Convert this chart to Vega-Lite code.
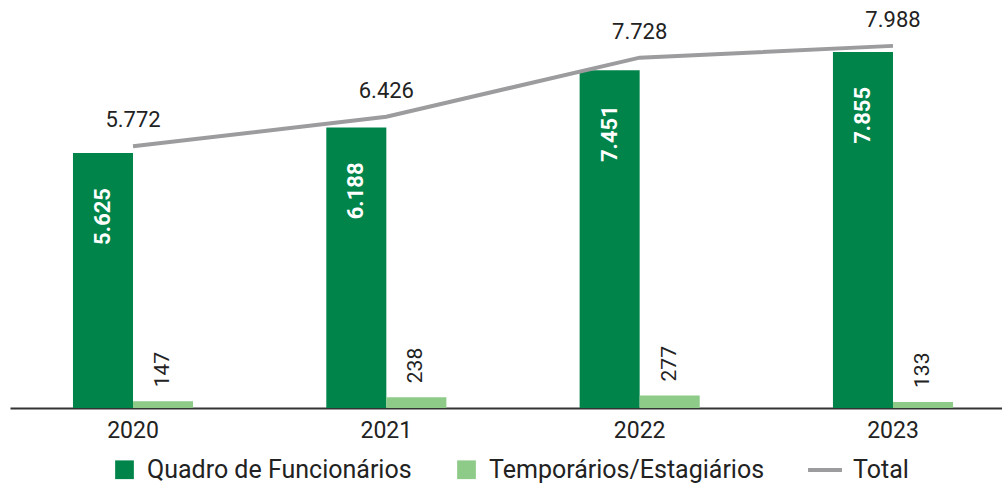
{
  "$schema": "https://vega.github.io/schema/vega-lite/v6.json",
  "width": 1002,
  "height": 408,
  "autosize": {"type": "none"},
  "padding": {"left": 0, "top": 0, "right": 0, "bottom": 76},
  "background": "white",
  "config": {
    "view": {"stroke": null},
    "font": "Roboto",
    "text": {"font": "Roboto"},
    "locale": {"number": {"decimal": ",", "thousands": ".", "grouping": [3], "currency": ["R$", ""]}}
  },
  "datasets": {
    "bars": [
      {"ano": "2020", "grupo": "Quadro de Funcionários", "valor": 5625},
      {"ano": "2020", "grupo": "Temporários/Estagiários", "valor": 147},
      {"ano": "2021", "grupo": "Quadro de Funcionários", "valor": 6188},
      {"ano": "2021", "grupo": "Temporários/Estagiários", "valor": 238},
      {"ano": "2022", "grupo": "Quadro de Funcionários", "valor": 7451},
      {"ano": "2022", "grupo": "Temporários/Estagiários", "valor": 277},
      {"ano": "2023", "grupo": "Quadro de Funcionários", "valor": 7855},
      {"ano": "2023", "grupo": "Temporários/Estagiários", "valor": 133}
    ],
    "total": [
      {"ano": "2020", "serie": "Total", "total": 5772},
      {"ano": "2021", "serie": "Total", "total": 6426},
      {"ano": "2022", "serie": "Total", "total": 7728},
      {"ano": "2023", "serie": "Total", "total": 7988}
    ]
  },
  "layer": [
    {
      "data": {"name": "bars"},
      "mark": {"type": "bar"},
      "encoding": {
        "x": {
          "field": "ano", "type": "nominal", "sort": null,
          "scale": {"range": [10, 1016], "paddingInner": 0.526, "paddingOuter": 0.2486},
          "axis": {
            "title": null, "labelAngle": 0, "ticks": false,
            "domainColor": "#333333", "domainWidth": 2,
            "labelFontSize": 23, "labelColor": "#222222", "labelPadding": 11,
            "labelFont": "Roboto"
          }
        },
        "xOffset": {
          "field": "grupo", "type": "nominal",
          "scale": {"domain": ["Quadro de Funcionários", "Temporários/Estagiários"], "paddingInner": 0, "paddingOuter": 0}
        },
        "y": {"field": "valor", "type": "quantitative", "scale": {"domain": [0, 9000]}, "axis": null},
        "color": {
          "field": "grupo", "type": "nominal",
          "scale": {"domain": ["Quadro de Funcionários", "Temporários/Estagiários"], "range": ["#00844A", "#8ECB88"]},
          "legend": {
            "title": null, "orient": "none", "legendX": 112, "legendY": 457,
            "direction": "horizontal", "symbolType": "square", "symbolSize": 350,
            "symbolStrokeWidth": 0, "labelFontSize": 25, "labelColor": "#222222",
            "labelFont": "Roboto", "columnPadding": 42, "labelOffset": 10, "padding": 0,
            "labelLimit": 500
          }
        }
      }
    },
    {
      "data": {"name": "total"},
      "mark": {"type": "line", "strokeWidth": 4},
      "encoding": {
        "x": {"field": "ano", "type": "nominal", "sort": null},
        "y": {"field": "total", "type": "quantitative"},
        "stroke": {
          "field": "serie", "type": "nominal",
          "scale": {"domain": ["Total"], "range": ["#9C9C9F"]},
          "legend": {
            "title": null, "orient": "none", "legendX": 806, "legendY": 451,
            "symbolType": "stroke", "symbolSize": 1150, "symbolStrokeWidth": 4,
            "labelFontSize": 25, "labelColor": "#222222", "labelFont": "Roboto",
            "labelOffset": 9, "padding": 0, "labelLimit": 200
          }
        }
      }
    },
    {
      "data": {"name": "total"},
      "mark": {"type": "text", "fontSize": 22, "color": "#222222", "dy": -26, "baseline": "middle"},
      "encoding": {
        "x": {"field": "ano", "type": "nominal", "sort": null},
        "y": {"field": "total", "type": "quantitative"},
        "text": {"field": "total", "type": "quantitative", "format": ",.0f"}
      }
    },
    {
      "data": {"name": "bars"},
      "transform": [{"filter": "datum.grupo === 'Quadro de Funcionários'"}],
      "mark": {"type": "text", "fontSize": 22, "fontWeight": "bold", "color": "white", "angle": -90, "align": "right", "baseline": "middle", "dx": -35},
      "encoding": {
        "x": {"field": "ano", "type": "nominal", "sort": null},
        "xOffset": {"field": "grupo", "type": "nominal"},
        "y": {"field": "valor", "type": "quantitative"},
        "text": {"field": "valor", "type": "quantitative", "format": ",.0f"}
      }
    },
    {
      "data": {"name": "bars"},
      "transform": [{"filter": "datum.grupo === 'Temporários/Estagiários'"}],
      "mark": {"type": "text", "fontSize": 21, "color": "#222222", "angle": -90, "align": "left", "baseline": "middle", "dx": 14},
      "encoding": {
        "x": {"field": "ano", "type": "nominal", "sort": null},
        "xOffset": {"field": "grupo", "type": "nominal"},
        "y": {"field": "valor", "type": "quantitative"},
        "text": {"field": "valor", "type": "quantitative", "format": ",.0f"}
      }
    }
  ]
}
